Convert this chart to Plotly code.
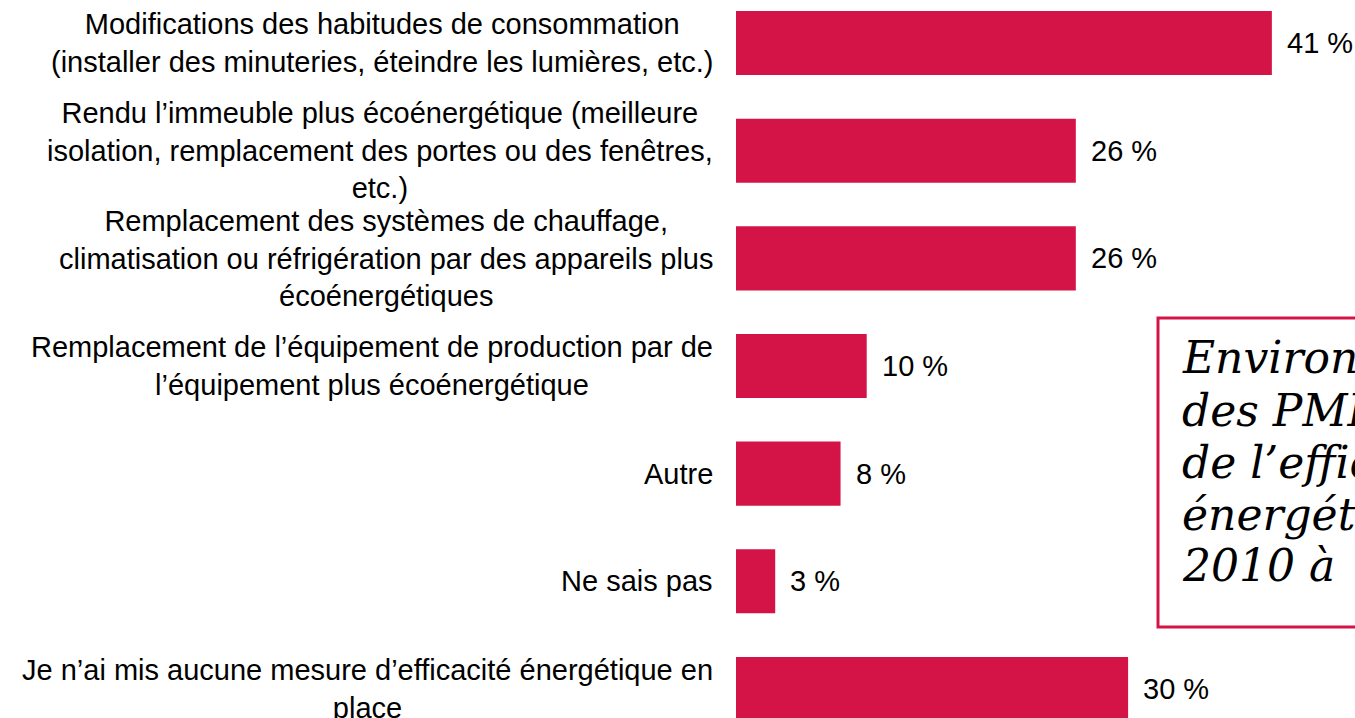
import plotly.graph_objects as go

categories = [
    "Modifications des habitudes de consommation<br>(installer des minuteries, éteindre les lumières, etc.)",
    "Rendu l’immeuble plus écoénergétique (meilleure<br>isolation, remplacement des portes ou des fenêtres,<br>etc.)",
    "Remplacement des systèmes de chauffage,<br>climatisation ou réfrigération par des appareils plus<br>écoénergétiques",
    "Remplacement de l’équipement de production par de<br>l’équipement plus écoénergétique",
    "Autre",
    "Ne sais pas",
    "Je n’ai mis aucune mesure d’efficacité énergétique en<br>place",
]
values = [41, 26, 26, 10, 8, 3, 30]
value_labels = ["41 %", "26 %", "26 %", "10 %", "8 %", "3 %", "30 %"]
box_lines = ["Environ 70 %", "des PME ont", "de l’efficacité", "énergétique de", "2010 à"]

W, H = 1355, 718
RED = "#D41446"
SANS = "Liberation Sans, Arial, sans-serif"

fig = go.Figure()
fig.add_trace(go.Bar(
    x=values, y=categories, orientation="h",
    marker=dict(color=RED, line=dict(width=0)),
    hoverinfo="skip",
))

annotations = []
for c, v, t in zip(categories, values, value_labels):
    annotations.append(dict(
        x=v, y=c, xref="x", yref="y", text=t, showarrow=False,
        xanchor="left", yanchor="middle", xshift=13,
        font=dict(family=SANS, size=29, color="#000000"),
    ))
    annotations.append(dict(
        x=715 / W, y=c, xref="paper", yref="y", text=c, showarrow=False,
        xanchor="right", yanchor="middle", align="center",
        font=dict(family=SANS, size=29, color="#000000"),
    ))

box_centers = [357, 410, 462, 514, 565]
for line, yc in zip(box_lines, box_centers):
    annotations.append(dict(
        x=1180 / W, y=1 - yc / H, xref="paper", yref="paper", text=line,
        showarrow=False, xanchor="left", yanchor="middle", align="left",
        font=dict(family="DejaVu Serif, serif", size=44,
                  color="#000000", style="italic"),
    ))

fig.add_shape(
    type="rect", xref="paper", yref="paper",
    x0=1158 / W, x1=1.1, y0=1 - 627 / H, y1=1 - 318 / H,
    line=dict(color=RED, width=3), fillcolor="rgba(0,0,0,0)",
)

fig.update_layout(
    width=W, height=H,
    margin=dict(l=0, r=0, t=0, b=0),
    paper_bgcolor="white", plot_bgcolor="white",
    bargap=0.405,
    showlegend=False,
    xaxis=dict(domain=[736 / W, 1], range=[0, 47.36], visible=False, fixedrange=True),
    yaxis=dict(type="category", categoryorder="array", categoryarray=categories,
               range=[6.27, -0.40], visible=False, fixedrange=True),
    annotations=annotations,
)

fig.write_html(
    "out.html",
    config={"displayModeBar": False},
    post_script="document.body.style.margin='0';document.body.style.overflow='hidden';",
)
